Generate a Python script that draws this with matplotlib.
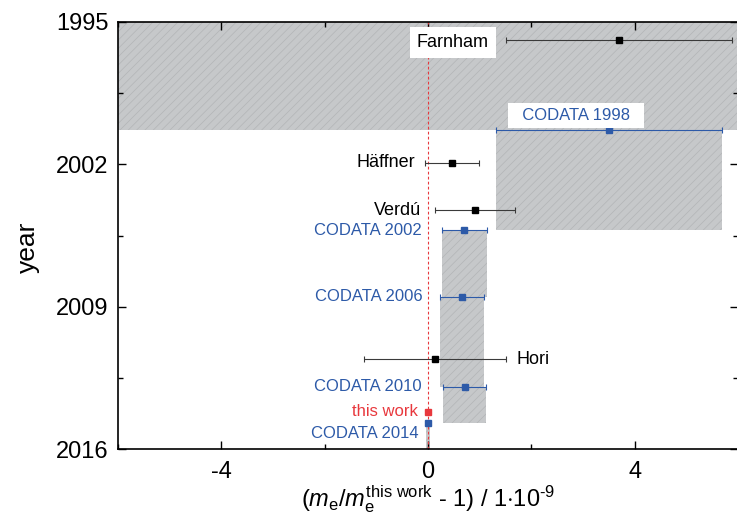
import matplotlib
matplotlib.use('Agg')
import matplotlib.pyplot as plt
from matplotlib.ticker import MultipleLocator

plt.rcParams['font.family'] = ['Liberation Sans', 'DejaVu Sans']
plt.rcParams['mathtext.fontset'] = 'custom'
plt.rcParams['mathtext.rm'] = 'Liberation Sans'
plt.rcParams['mathtext.it'] = 'Liberation Sans:italic'
plt.rcParams['axes.unicode_minus'] = False
plt.rcParams['hatch.linewidth'] = 0.5

# CODATA recommended values (deviation in units of 1e-9) and validity period
band_value = [0.0, 3.51, 0.70, 0.66, 0.71, 0.0]
band_unc   = [20.0, 2.19, 0.435, 0.42, 0.41, 0.03]
band_start = [1987.0, 2000.31, 2005.23, 2008.51, 2012.94, 2014.74]
band_end   = [2000.31, 2005.23, 2008.51, 2012.94, 2014.74, 2017.0]

codata_names = ['CODATA 1998', 'CODATA 2002', 'CODATA 2006', 'CODATA 2010', 'CODATA 2014']

# single measurements
exp_names = ['Farnham', 'Häffner', 'Verdú', 'Hori']
exp_year  = [1995.9, 2001.92, 2004.26, 2011.58]
exp_value = [3.70, 0.46, 0.91, 0.14]
exp_unc   = [2.19, 0.52, 0.77, 1.37]

this_year = 2014.18
this_value = 0.0

blue = '#2d5aa8'
red = '#e8383d'
gray_fill = '#c6c8ca'
gray_hatch = '#b2b4b6'

fig = plt.figure(figsize=(7.37, 5.18), dpi=100)
ax = fig.add_axes([118/737, 69/518, 620/737, 427/518])

# shaded CODATA bands
for v, u, y0, y1 in zip(band_value, band_unc, band_start, band_end):
    ax.fill_betweenx([y0, y1], v - u, v + u, facecolor=gray_fill,
                     edgecolor=gray_hatch, hatch='////', linewidth=0, zorder=1)

ax.axvline(0, color=red, lw=0.8, ls=(0, (2.5, 2)), zorder=2)

# CODATA points sit at the start of each band
ax.errorbar(band_value[1:], band_start[1:], xerr=band_unc[1:], fmt='s', color=blue,
            ms=5, lw=0.8, capsize=2.5, capthick=0.8, zorder=4)
ax.errorbar(exp_value, exp_year, xerr=exp_unc, fmt='s', mfc='black', mec='black',
            ecolor='#3a3a3a', ms=5, lw=0.8, capsize=2.5, capthick=0.8, zorder=4)
ax.plot([this_value], [this_year], 's', color=red, ms=5, zorder=5)

# labels: (x, y, ha)
layout = {
    'Farnham': (0.48, 1996.0, 'center'),
    'Häffner': (-0.25, 2001.92, 'right'),
    'Verdú': (-0.14, 2004.26, 'right'),
    'Hori': (1.72, 2011.58, 'left'),
    'CODATA 1998': (2.87, 1999.6, 'center'),
    'CODATA 2002': (-0.12, 2005.23, 'right'),
    'CODATA 2006': (-0.10, 2008.51, 'right'),
    'CODATA 2010': (-0.12, 2012.94, 'right'),
    'CODATA 2014': (-0.18, 2015.23, 'right'),
    'this work': (-0.20, 2014.18, 'right'),
}
for name in exp_names:
    x, y, ha = layout[name]
    kw = {}
    if name == 'Farnham':
        kw['bbox'] = dict(boxstyle='square,pad=0.4', fc='white', ec='none')
    ax.text(x, y, name, ha=ha, va='center', fontsize=13, color='black', zorder=6, **kw)
for name in codata_names:
    x, y, ha = layout[name]
    kw = {}
    txt = name
    if name == 'CODATA 1998':
        txt = '  ' + name + '  '
        kw['bbox'] = dict(boxstyle='square,pad=0.3', fc='white', ec='none')
    ax.text(x, y, txt, ha=ha, va='center', fontsize=12, color=blue, zorder=6, **kw)
x, y, ha = layout['this work']
ax.text(x, y, 'this work', ha=ha, va='center', fontsize=12, color=red, zorder=6)

ax.set_xlim(-6, 6)
ax.set_ylim(2016, 1995)
ax.set_xticks([-4, 0, 4])
ax.xaxis.set_minor_locator(MultipleLocator(2))
ax.set_yticks([1995, 2002, 2009, 2016])
ax.yaxis.set_minor_locator(MultipleLocator(3.5))
ax.tick_params(which='both', direction='in', top=True, right=True, labelsize=17, width=1.0)
ax.tick_params(which='major', length=6)
ax.tick_params(which='minor', length=3.5)
ax.tick_params(axis='y', pad=7)
ax.tick_params(axis='x', pad=9)
for s in ax.spines.values():
    s.set_linewidth(1.2)

ax.set_ylabel('year', fontsize=19)
ax.yaxis.set_label_coords(-0.126, 0.472)
ax.set_xlabel(r'$(m_\mathregular{e}/m_\mathregular{e}^\mathregular{this\ work}$ - 1) / 1$\cdot$10$^{\text{-9}}$',
              fontsize=17)
ax.xaxis.set_label_coords(0.5, -0.08)

fig.savefig('out.png', dpi=100)
